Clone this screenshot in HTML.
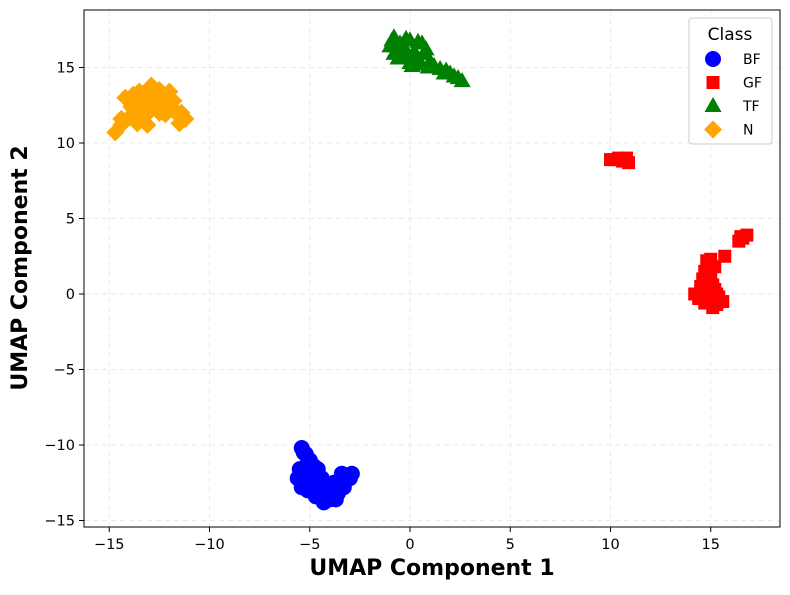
<!DOCTYPE html>
<html><head><meta charset="utf-8"><style>
body{margin:0;background:#fff;font-family:"Liberation Sans","DejaVu Sans",sans-serif}
svg text{font-family:"DejaVu Sans","Liberation Sans",sans-serif}
</style></head><body>
<svg id="chart" width="790" height="590"></svg>
<script>
const xTicks=[-15,-10,-5,0,5,10,15];
const yTicks=[-15,-10,-5,0,5,10,15];
const bfX=[-5.4,-5.2,-5.0,-4.8,-5.3,-5.6,-5.0,-4.6,-4.4,-4.8,-4.2,-4.0,-4.3,-3.6,-3.3,-3.0,-2.9,-3.4,-5.4,-5.1,-4.7,-3.8,-5.3,-5.1,-4.9,-4.6,-4.1,-3.9,-3.5,-3.2,-5.5,-4.5,-4.9,-5.2,-3.7,-4.4];
const bfY=[-10.2,-10.6,-11.0,-11.4,-11.8,-12.2,-12.4,-12.0,-12.6,-13.0,-13.2,-13.6,-13.8,-13.2,-12.8,-12.2,-11.9,-11.9,-12.8,-13.0,-13.4,-12.5,-10.5,-11.2,-11.9,-11.6,-12.9,-13.0,-12.4,-12.0,-11.6,-13.4,-12.7,-12.4,-13.6,-12.2];
const gfX=[10.0,10.4,10.8,10.9,10.6,10.2,14.2,14.5,14.7,14.8,15.0,15.2,15.0,14.8,15.0,15.3,15.6,15.2,14.4,15.7,16.4,16.8,16.6,14.6,14.9,15.1,14.7,15.3,14.9,15.1,14.5,15.4,16.5];
const gfY=[8.9,9.0,9.0,8.7,8.8,8.9,0.0,0.5,1.5,2.2,2.3,1.8,1.0,0.0,-0.5,-0.7,-0.5,0.3,-0.3,2.5,3.5,3.9,3.7,1.0,1.3,0.6,-0.6,0.0,-0.2,-0.9,0.2,-0.2,3.8];
const tfX=[-1.0,-0.8,-0.5,0.0,0.4,0.8,1.0,0.5,0.0,-0.4,-0.8,1.5,2.0,2.4,2.6,0.2,-0.3,1.8,-0.9,-0.6,-0.2,0.3,0.7,0.9,1.2,1.7,2.2,0.1,-0.1,0.6,0.4,-0.6];
const tfY=[16.4,17.0,16.6,16.8,16.7,16.2,15.4,15.2,15.3,15.6,15.9,14.9,14.6,14.3,14.1,16.0,16.1,14.8,16.8,16.2,16.9,15.8,15.9,15.0,15.1,14.6,14.4,15.1,15.9,16.6,15.6,15.6];
const nX=[-14.7,-14.4,-14.0,-13.6,-14.0,-13.5,-13.0,-12.5,-12.0,-11.8,-11.4,-11.2,-11.5,-12.2,-12.6,-13.3,-13.2,-13.5,-12.9,-11.9,-14.2,-13.8,-13.9,-13.2,-12.8,-12.3,-12.0,-13.0,-12.5,-13.6,-14.4,-13.1,-12.2,-11.6,-13.8,-12.9];
const nY=[10.7,11.2,11.7,12.2,12.9,13.4,13.6,13.5,13.4,12.8,12.0,11.6,11.3,11.9,12.5,12.7,11.8,11.6,12.2,12.4,13.0,13.2,12.4,13.1,13.0,13.0,12.5,12.1,12.0,11.3,11.6,11.2,12.8,11.9,12.7,13.8];

const NS="http://www.w3.org/2000/svg",svg=document.getElementById('chart');
const L=84,R=780,T=10,B=527;
const sx=v=>410+20.05*v, sy=v=>294-15.1*v;
function mk(t,a,p){const e=document.createElementNS(NS,t);for(const k in a)e.setAttribute(k,a[k]);(p||svg).appendChild(e);return e;}
const grid=mk('g',{});


xTicks.forEach(t=>{const x=sx(t);
 mk('line',{x1:x,x2:x,y1:T,y2:B,stroke:'#ebebeb','stroke-dasharray':'5,4'},grid);
 mk('line',{x1:x,x2:x,y1:B,y2:B+5,stroke:'#000'});
 const tx=mk('text',{x:x,y:B+22,'text-anchor':'middle','font-size':14.5});tx.textContent=t<0?'\u2212'+(-t):t;
 
 });
yTicks.forEach(t=>{const y=sy(t);
 mk('line',{x1:L,x2:R,y1:y,y2:y,stroke:'#ebebeb','stroke-dasharray':'5,4'},grid);
 mk('line',{x1:L-5,x2:L,y1:y,y2:y,stroke:'#000'});
 const tx=mk('text',{x:L-9,y:y+5,'text-anchor':'end','font-size':14.5});tx.textContent=t<0?'\u2212'+(-t):t;
 
 });
function marker(kind,x,y,c,p){
 if(kind==='o')return mk('circle',{cx:x,cy:y,r:8,fill:c},p);
 if(kind==='s')return mk('rect',{x:x-6.5,y:y-6.5,width:13,height:13,fill:c},p);
 if(kind==='^')return mk('polygon',{points:`${x},${y-9} ${x-8.5},${y+6} ${x+8.5},${y+6}`,fill:c},p);
 return mk('polygon',{points:`${x},${y-9} ${x+9},${y} ${x},${y+9} ${x-9},${y}`,fill:c},p);}
const series=[['bf',bfX,bfY,'blue','o'],['gf',gfX,gfY,'red','s'],['tf',tfX,tfY,'green','^'],['n',nX,nY,'orange','D']];
series.forEach(([n,xs,ys,c,k])=>{const g=mk('g',{});
 
 
 xs.forEach((v,i)=>{const m=marker(k,sx(v),sy(ys[i]),c,g);
  
  });});
const frame=mk('rect',{x:L,y:T,width:R-L,height:B-T,fill:'none',stroke:'#000'});


const xt=mk('text',{x:432,y:575,'text-anchor':'middle','font-size':22,'font-weight':'bold'});xt.textContent='UMAP Component 1';


const yt=mk('text',{x:0,y:0,'text-anchor':'middle','font-size':22,'font-weight':'bold',transform:'translate(27,268) rotate(-90)'});yt.textContent='UMAP Component 2';


const lg=mk('g',{});


mk('rect',{x:689,y:18,width:83,height:126,rx:3,fill:'#fff','fill-opacity':0.85,stroke:'#ccc'},lg);
const lt=mk('text',{x:730,y:40,'text-anchor':'middle','font-size':17},lg);lt.textContent='Class';


['BF','GF','TF','N'].forEach((n,i)=>{const y=59+i*23.5;const s=series[i];
 const e=mk('g',{},lg);
 
 
 marker(s[4],713,y,s[3],e);
 const t=mk('text',{x:743,y:y+5,'font-size':14},e);t.textContent=n;});
</script>
</body></html>
